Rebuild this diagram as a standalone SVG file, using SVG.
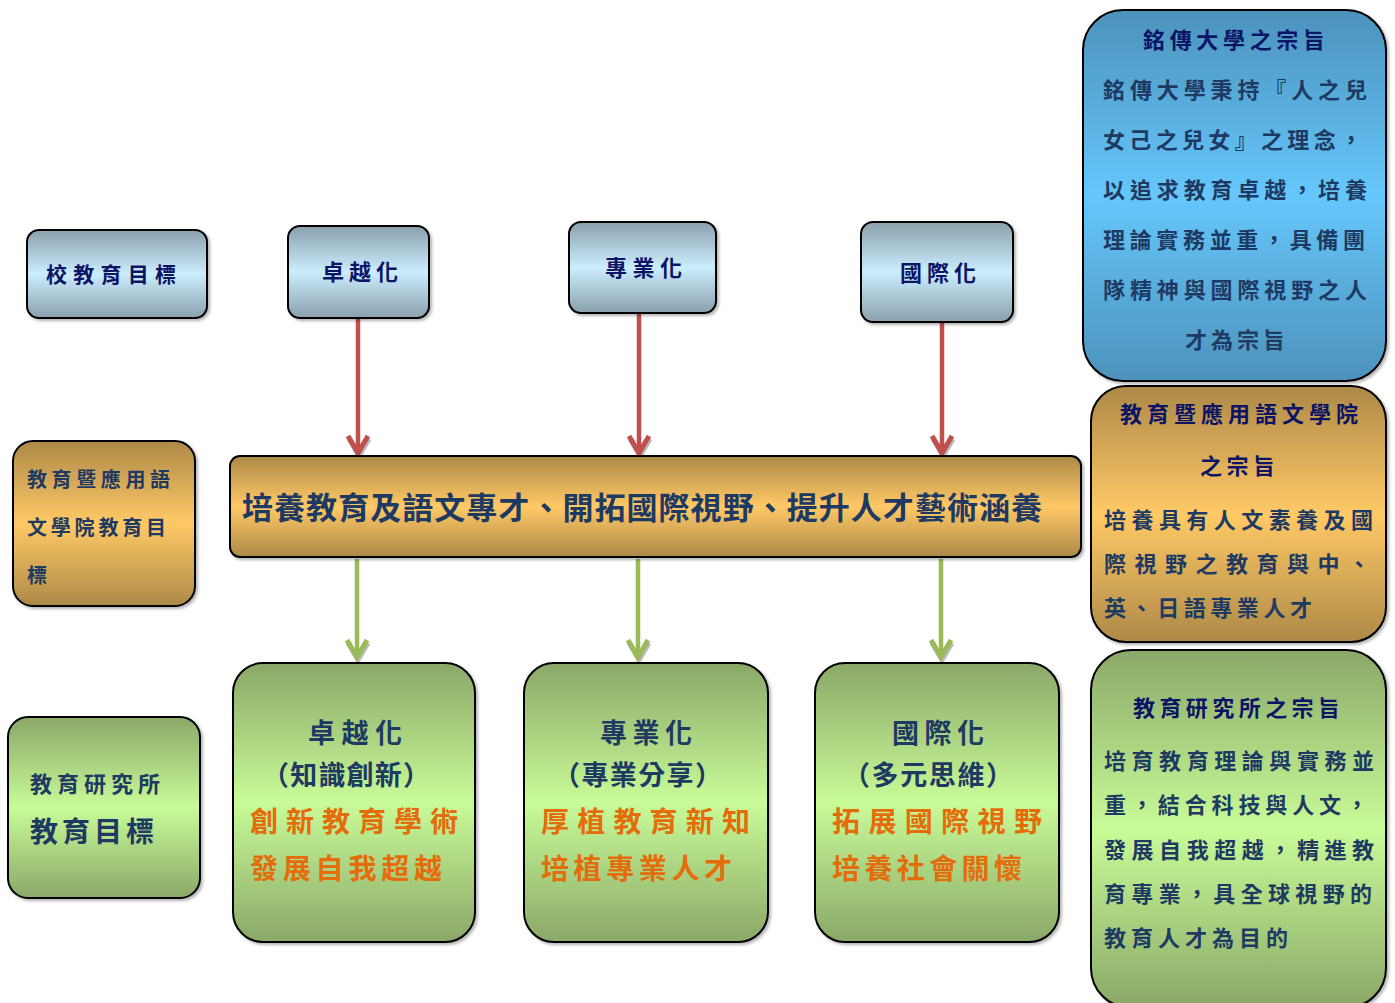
<svg xmlns="http://www.w3.org/2000/svg" width="1395" height="1003" viewBox="0 0 1395 1003">
<defs>
<linearGradient id="gBlueGray" x1="0" y1="0" x2="0" y2="1">
<stop offset="0" stop-color="#8aa0ad"/><stop offset="0.5" stop-color="#cbedfd"/><stop offset="1" stop-color="#8aa0ad"/>
</linearGradient>
<linearGradient id="gBlue" x1="0" y1="0" x2="0" y2="1">
<stop offset="0" stop-color="#4c92bb"/><stop offset="0.5" stop-color="#66c7fc"/><stop offset="1" stop-color="#4c92bb"/>
</linearGradient>
<linearGradient id="gGold" x1="0" y1="0" x2="0" y2="1">
<stop offset="0" stop-color="#ad8948"/><stop offset="0.5" stop-color="#ffc966"/><stop offset="1" stop-color="#ad8948"/>
</linearGradient>
<linearGradient id="gGreen" x1="0" y1="0" x2="0" y2="1">
<stop offset="0" stop-color="#8aa868"/><stop offset="0.5" stop-color="#c9fb98"/><stop offset="1" stop-color="#8aa868"/>
</linearGradient>
<filter id="sh" x="-10%" y="-10%" width="120%" height="120%">
<feDropShadow dx="2" dy="2" stdDeviation="1.5" flood-color="#000" flood-opacity="0.3"/>
</filter>
<marker id="mRed" markerUnits="userSpaceOnUse" viewBox="-24 -16 30 32" refX="0" refY="0" markerWidth="30" markerHeight="32" orient="auto">
<path d="M-17,-10 L0,0 L-17,10" transform="translate(2,-1)" fill="none" stroke="#8c8c8c" stroke-width="5" opacity="0.6"/>
<path d="M-18,-10 L-1,0 L-18,10" fill="none" stroke="#c0504d" stroke-width="5"/>
</marker>
<marker id="mGreen" markerUnits="userSpaceOnUse" viewBox="-24 -16 30 32" refX="0" refY="0" markerWidth="30" markerHeight="32" orient="auto">
<path d="M-17,-10 L0,0 L-17,10" transform="translate(2,-1)" fill="none" stroke="#8c8c8c" stroke-width="5" opacity="0.6"/>
<path d="M-18,-10 L-1,0 L-18,10" fill="none" stroke="#9bbb59" stroke-width="5"/>
</marker>
</defs>
<style>
rect.box { stroke: #000; stroke-width: 2; filter: url(#sh); }
.bg { fill: url(#gBlueGray); }
.bb { fill: url(#gBlue); }
.go { fill: url(#gGold); }
.gr { fill: url(#gGreen); }
text { font-family: "Noto Sans CJK TC", "Noto Sans CJK SC", sans-serif; font-weight: 700; }
.tt { fill: #0c1466; }
.tb { fill: #1e3a62; }
.to { fill: #e46c0a; }
.red { stroke: #c0504d; stroke-width: 4.5; fill: none; marker-end: url(#mRed); }
.grn { stroke: #9bbb59; stroke-width: 4.5; fill: none; marker-end: url(#mGreen); }
</style>
<rect width="1395" height="1003" fill="#fff"/>

<g id="connectors">
<line class="red" x1="358" y1="319" x2="358" y2="454"/>
<line class="red" x1="639" y1="314" x2="639" y2="454"/>
<line class="red" x1="942" y1="323" x2="942" y2="454"/>
<line class="grn" x1="357" y1="559" x2="357" y2="658"/>
<line class="grn" x1="638" y1="559" x2="638" y2="658"/>
<line class="grn" x1="941" y1="559" x2="941" y2="658"/>
</g>

<g id="school-goal">
<rect class="box bg" x="27" y="230" width="180" height="88" rx="12"/>
<text class="tt" x="46" y="282" font-size="21" textLength="130" lengthAdjust="spacing">校教育目標</text>
</g>
<g id="top-excellence">
<rect class="box bg" x="288" y="226" width="141" height="92" rx="12"/>
<text class="tt" x="322" y="280" font-size="22" textLength="76" lengthAdjust="spacing">卓越化</text>
</g>
<g id="top-professional">
<rect class="box bg" x="569" y="222" width="147" height="91" rx="12"/>
<text class="tt" x="605" y="276" font-size="22" textLength="77" lengthAdjust="spacing">專業化</text>
</g>
<g id="top-international">
<rect class="box bg" x="861" y="222" width="152" height="100" rx="12"/>
<text class="tt" x="900" y="281" font-size="22" textLength="76" lengthAdjust="spacing">國際化</text>
</g>

<g id="mcu-purpose">
<rect class="box bb" x="1083" y="10" width="303" height="371" rx="40"/>
<text class="tt" x="1143" y="48" font-size="22" textLength="182" lengthAdjust="spacing">銘傳大學之宗旨</text>
<text class="tb" x="1103" y="98" font-size="22" textLength="264" lengthAdjust="spacing">銘傳大學秉持『人之兒</text>
<text class="tb" x="1103" y="148" font-size="22" textLength="259" lengthAdjust="spacing">女己之兒女』之理念，</text>
<text class="tb" x="1103" y="198" font-size="22" textLength="264" lengthAdjust="spacing">以追求教育卓越，培養</text>
<text class="tb" x="1103" y="248" font-size="22" textLength="262" lengthAdjust="spacing">理論實務並重，具備團</text>
<text class="tb" x="1103" y="298" font-size="22" textLength="264" lengthAdjust="spacing">隊精神與國際視野之人</text>
<text class="tb" x="1185" y="348" font-size="22" textLength="100" lengthAdjust="spacing">才為宗旨</text>
</g>

<g id="college-purpose">
<rect class="box go" x="1091" y="386" width="295" height="256" rx="35"/>
<text class="tt" x="1120" y="422" font-size="22" textLength="238" lengthAdjust="spacing">教育暨應用語文學院</text>
<text class="tt" x="1200" y="474" font-size="22" textLength="75" lengthAdjust="spacing">之宗旨</text>
<text class="tb" x="1104" y="528" font-size="22" textLength="269" lengthAdjust="spacing">培養具有人文素養及國</text>
<text class="tb" x="1104" y="572" font-size="22" textLength="266" lengthAdjust="spacing">際視野之教育與中、</text>
<text class="tb" x="1104" y="616" font-size="22" textLength="208" lengthAdjust="spacing">英、日語專業人才</text>
</g>

<g id="institute-purpose">
<rect class="box gr" x="1091" y="650" width="295" height="358" rx="40"/>
<text class="tt" x="1133" y="716" font-size="22" textLength="207" lengthAdjust="spacing">教育研究所之宗旨</text>
<text class="tb" x="1104" y="769" font-size="22" textLength="270" lengthAdjust="spacing">培育教育理論與實務並</text>
<text class="tb" x="1104" y="813" font-size="22" textLength="264" lengthAdjust="spacing">重，結合科技與人文，</text>
<text class="tb" x="1104" y="858" font-size="22" textLength="270" lengthAdjust="spacing">發展自我超越，精進教</text>
<text class="tb" x="1104" y="902" font-size="22" textLength="268" lengthAdjust="spacing">育專業，具全球視野的</text>
<text class="tb" x="1104" y="946" font-size="22" textLength="184" lengthAdjust="spacing">教育人才為目的</text>
</g>

<g id="college-goal">
<rect class="box go" x="13" y="441" width="182" height="165" rx="20"/>
<text class="tb" x="27" y="487" font-size="20" textLength="143" lengthAdjust="spacing">教育暨應用語</text>
<text class="tb" x="27" y="535" font-size="20" textLength="139" lengthAdjust="spacing">文學院教育目</text>
<text class="tb" x="27" y="583" font-size="20">標</text>
</g>

<g id="main-goal">
<rect class="box go" x="230" y="456" width="851" height="101" rx="10"/>
<text class="tb" x="242" y="519" font-size="31" textLength="800" lengthAdjust="spacing">培養教育及語文專才、開拓國際視野、提升人才藝術涵養</text>
</g>

<g id="institute-goal">
<rect class="box gr" x="8" y="717" width="192" height="181" rx="20"/>
<text class="tb" x="30" y="792" font-size="22" textLength="130" lengthAdjust="spacing">教育研究所</text>
<text class="tb" x="30" y="842" font-size="28" textLength="124" lengthAdjust="spacing">教育目標</text>
</g>

<g id="goal-excellence">
<rect class="box gr" x="233" y="663" width="242" height="279" rx="30"/>
<text class="tb" x="308" y="743" font-size="27" textLength="94" lengthAdjust="spacing">卓越化</text>
<text class="tb" x="262" y="785" font-size="27" textLength="168" lengthAdjust="spacing">（知識創新）</text>
<text class="to" x="250" y="832" font-size="28" textLength="208" lengthAdjust="spacing">創新教育學術</text>
<text class="to" x="250" y="879" font-size="28" textLength="192" lengthAdjust="spacing">發展自我超越</text>
</g>
<g id="goal-professional">
<rect class="box gr" x="524" y="663" width="244" height="279" rx="30"/>
<text class="tb" x="600" y="743" font-size="27" textLength="92" lengthAdjust="spacing">專業化</text>
<text class="tb" x="553" y="785" font-size="27" textLength="169" lengthAdjust="spacing">（專業分享）</text>
<text class="to" x="541" y="832" font-size="28" textLength="209" lengthAdjust="spacing">厚植教育新知</text>
<text class="to" x="541" y="879" font-size="28" textLength="191" lengthAdjust="spacing">培植專業人才</text>
</g>
<g id="goal-international">
<rect class="box gr" x="815" y="663" width="244" height="279" rx="30"/>
<text class="tb" x="892" y="743" font-size="27" textLength="92" lengthAdjust="spacing">國際化</text>
<text class="tb" x="843" y="785" font-size="27" textLength="170" lengthAdjust="spacing">（多元思維）</text>
<text class="to" x="832" y="832" font-size="28" textLength="210" lengthAdjust="spacing">拓展國際視野</text>
<text class="to" x="832" y="879" font-size="28" textLength="190" lengthAdjust="spacing">培養社會關懷</text>
</g>
</svg>
